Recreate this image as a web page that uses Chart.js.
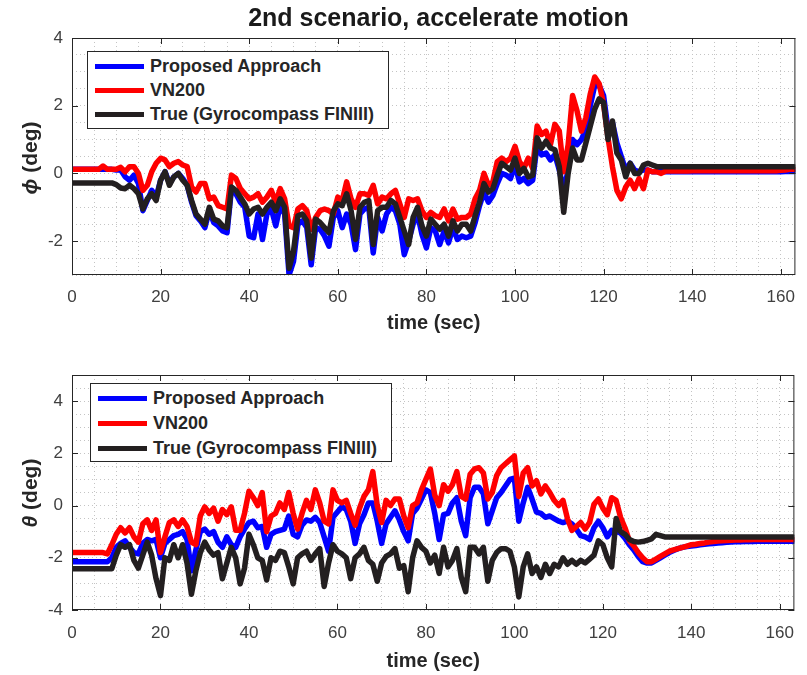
<!DOCTYPE html>
<html>
<head>
<meta charset="utf-8">
<script src="https://cdn.jsdelivr.net/npm/chart.js@4.4.1/dist/chart.umd.min.js"></script>
<style>
  body { margin: 0; background: #fff; font-family: "Liberation Sans", Arial, sans-serif; }
  #fig { position: relative; width: 807px; height: 675px; overflow: hidden; }
  canvas { position: absolute; left: 0; }
  .fig-title { position: absolute; left: 72px; width: 733px; top: 2px; text-align: center;
    font-size: 25px; font-weight: bold; color: #1a1a1a; line-height: 30px; }
  .ylab { position: absolute; width: 200px; height: 24px; line-height: 24px; text-align: center;
    font-size: 21px; font-weight: bold; color: #262626; transform: rotate(-90deg); white-space: nowrap; }
  .legend { position: absolute; box-sizing: border-box; background: #fff; border: 1px solid #262626; }
  .legend .row { position: absolute; left: 7px; height: 24px; line-height: 24px; white-space: nowrap;
    font-size: 18px; font-weight: bold; color: #262626; }
  .legend .swatch { display: inline-block; width: 49px; height: 5px; vertical-align: middle; margin-right: 6px; position: relative; top: -1px; }
</style>
</head>
<body>
<div id="fig">
  <canvas id="rollChart" width="807" height="337" style="top:0"></canvas>
  <canvas id="pitchChart" width="807" height="338" style="top:337px"></canvas>

  <div class="fig-title">2nd scenario, accelerate motion</div>
  <div class="ylab" style="left:-70px; top:146px;"><i>ϕ</i> (deg)</div>
  <div class="ylab" style="left:-70px; top:481px;"><i>θ</i> (deg)</div>

  <div class="legend" style="left:87px; top:51px; width:302px; height:78px;">
    <div class="row" style="top:2px"><span class="swatch" style="background:#0000ff"></span>Proposed Approach</div>
    <div class="row" style="top:26px"><span class="swatch" style="background:#ff0000"></span>VN200</div>
    <div class="row" style="top:50px"><span class="swatch" style="background:#231f20"></span>True (Gyrocompass FINIII)</div>
  </div>
  <div class="legend" style="left:90px; top:383px; width:302px; height:79px;">
    <div class="row" style="top:2px"><span class="swatch" style="background:#0000ff"></span>Proposed Approach</div>
    <div class="row" style="top:27px"><span class="swatch" style="background:#ff0000"></span>VN200</div>
    <div class="row" style="top:52px"><span class="swatch" style="background:#231f20"></span>True (Gyrocompass FINIII)</div>
  </div>
</div>

<script>
// 1 Hz time base, seconds
const sampleTimes = Array.from({ length: 164 }, (_, i) => i);

// roll angle phi (deg)
const phiProposed = [
  0.12, 0.12, 0.12, 0.12, 0.12, 0.12, 0.12, 0.12, 0.12, 0.12,
  0.1, 0.1, -0.1, -0.2, -0.05, -0.3, -1.1, -0.8, -0.5, -0.7,
  -0.2, 0.05, -0.3, -0.1, 0.0, -0.15, -0.35, -0.85, -1.25, -1.4,
  -1.6, -1.1, -1.45, -1.55, -1.7, -1.75, -0.45, -0.6, -0.85, -1.0,
  -1.85, -1.9, -1.2, -1.95, -1.2, -1.05, -1.55, -0.95, -1.2, -3.0,
  -2.6, -1.5, -1.4, -1.6, -2.7, -1.6, -1.65, -1.85, -2.15, -1.3,
  -1.1, -1.6, -1.2, -1.5, -2.25, -1.2, -1.05, -1.0, -2.35, -1.3,
  -1.7, -1.2, -1.0, -1.1, -1.5, -2.4, -2.0, -1.5, -1.2, -1.8,
  -2.2, -1.6, -1.7, -2.1, -1.7, -2.05, -1.6, -1.95, -1.85, -1.9,
  -1.85, -1.45, -0.95, -0.55, -0.85, -0.65, -0.3, 0.0, -0.05, -0.15,
  0.25, -0.25, -0.15, -0.3, -0.2, 0.85, 0.55, 0.6, 0.4, 0.55,
  0.1, -0.5, 0.1, 1.0, 0.85, 1.0, 1.3, 2.0, 2.6, 2.6,
  2.3, 1.3, 1.5, 0.9, 0.5, 0.1, 0.3, 0.1, 0.05, 0.1,
  0.1, 0.05, 0.05, 0.05, 0.05, 0.05, 0.05, 0.05, 0.05, 0.05,
  0.05, 0.05, 0.05, 0.05, 0.05, 0.05, 0.05, 0.05, 0.05, 0.05,
  0.05, 0.05, 0.05, 0.05, 0.05, 0.05, 0.05, 0.05, 0.05, 0.05,
  0.05, 0.06, 0.06, 0.06
];
const phiVN200 = [
  0.12, 0.12, 0.12, 0.12, 0.12, 0.12, 0.12, 0.22, 0.12, 0.12,
  0.12, 0.18, 0.05, 0.2, 0.2, 0.0, -0.5, -0.35, 0.05, 0.3,
  0.45, 0.4, 0.2, 0.3, 0.35, 0.25, 0.2, -0.4, -0.55, -0.3,
  -0.3, -0.75, -0.7, -0.95, -1.0, -1.05, -0.05, -0.15, -0.45, -0.6,
  -0.75, -0.7, -0.6, -0.85, -0.7, -0.5, -0.85, -0.45, -0.75, -1.55,
  -1.6, -1.05, -0.95, -1.1, -1.65, -1.3, -1.1, -1.05, -1.1, -1.2,
  -0.7, -0.8, -0.25, -0.75, -1.0, -0.6, -0.6, -0.65, -0.35, -0.9,
  -0.7, -0.75, -0.6, -0.5, -0.9, -1.3, -0.75, -0.8, -0.75, -1.1,
  -1.3, -1.15, -1.25, -1.3, -1.05, -1.4, -1.05, -1.35, -1.3, -1.3,
  -1.2, -0.75, -0.5, 0.0, -0.35, -0.25, 0.35, 0.45, 0.35, 0.45,
  0.8, 0.35, 0.15, 0.45, 0.15, 1.4, 1.15, 1.25, 0.85, 1.45,
  1.25, 0.05, 0.85, 2.3, 1.85, 1.25, 1.65, 2.35, 2.85, 2.65,
  2.05, 1.05, 0.2, -0.5, -0.75, -0.4, -0.2, -0.45, -0.15, -0.45,
  0.1, 0.05, 0.05, 0.0, 0.07, 0.07, 0.07, 0.07, 0.07, 0.07,
  0.08, 0.08, 0.08, 0.08, 0.08, 0.08, 0.08, 0.08, 0.08, 0.08,
  0.08, 0.08, 0.08, 0.08, 0.08, 0.08, 0.08, 0.08, 0.08, 0.08,
  0.09, 0.1, 0.12, 0.12
];
const phiTrue = [
  -0.28, -0.28, -0.28, -0.28, -0.28, -0.28, -0.28, -0.28, -0.28, -0.28,
  -0.33, -0.43, -0.45, -0.35, -0.45, -0.6, -1.05, -0.75, -0.6, -0.8,
  -0.2, 0.05, -0.35, -0.1, 0.0, -0.2, -0.35, -0.8, -1.2, -1.35,
  -1.5, -1.0, -1.35, -1.4, -1.55, -1.6, -0.4, -0.5, -0.7, -0.9,
  -1.2, -1.05, -1.0, -1.2, -1.0, -0.85, -1.1, -0.75, -1.0, -2.8,
  -2.3, -1.25, -1.2, -1.4, -2.5, -1.35, -1.45, -1.6, -1.75, -1.1,
  -0.9, -0.95, -0.6, -1.1, -1.95, -1.0, -0.85, -0.8, -2.1, -1.1,
  -1.0, -1.0, -0.8, -0.9, -1.3, -1.7, -2.1, -1.3, -1.0, -1.55,
  -1.85, -1.35, -1.5, -1.65, -1.5, -1.85, -1.4, -1.7, -1.5, -1.5,
  -1.7, -1.25, -0.85, -0.3, -0.55, -0.45, -0.05, 0.3, 0.2, 0.1,
  0.45, 0.0, 0.15, -0.1, -0.05, 1.05, 0.75, 0.95, 0.75, 0.7,
  0.2, -1.15, 0.0, 0.75, 0.4, 0.4, 0.9, 1.4, 1.9, 2.2,
  2.1, 1.0, 1.55, 0.6, 0.4, -0.1, 0.3, 0.0, 0.0, 0.25,
  0.3, 0.25, 0.2, 0.2, 0.2, 0.2, 0.2, 0.2, 0.2, 0.2,
  0.2, 0.2, 0.2, 0.2, 0.2, 0.2, 0.2, 0.2, 0.2, 0.2,
  0.2, 0.2, 0.2, 0.2, 0.2, 0.2, 0.2, 0.2, 0.2, 0.2,
  0.2, 0.2, 0.2, 0.2
];

// pitch angle theta (deg)
const thetaProposed = [
  -2.15, -2.15, -2.15, -2.15, -2.15, -2.15, -2.15, -2.15, -2.15, -2.0,
  -1.6, -1.45, -1.35, -1.6, -1.8, -1.85, -1.45, -1.3, -1.35, -1.3,
  -2.0, -1.45, -1.3, -1.15, -1.1, -1.0, -1.3, -2.5, -1.7, -1.0,
  -0.9, -1.1, -1.0, -1.4, -1.6, -1.2, -1.5, -1.6, -1.2, -0.9,
  -0.65, -0.6, -0.85, -0.8, -1.6, -1.1, -1.0, -0.95, -0.9, -0.4,
  -1.1, -1.2, -0.75, -0.55, -0.6, -0.45, -0.65, -1.2, -1.75, -0.45,
  -0.25, -0.05, -0.15, -0.6, -1.45, -0.7, -0.35, 0.1, 0.1, -0.6,
  -1.45, -0.7, -0.45, -0.2, -0.55, -1.0, -1.35, -0.3, -0.1, 0.25,
  0.6, 0.5, -0.3, -1.3, -0.35, -0.3, 0.1, 0.3, -0.6, -1.15,
  0.3, 0.7, 0.7, 0.45, -0.7, -0.2, 0.3, 0.5, 0.75, 1.0,
  1.05, -0.6, 0.1, 0.7, 0.25, -0.25, -0.3, -0.45, -0.4, -0.5,
  -0.6, -0.65, -0.6, -0.7, -0.9, -1.15, -1.2, -1.3, -0.85, -0.6,
  -0.85, -1.2, -0.95, -1.0, -1.05, -1.25, -1.5, -1.7, -1.95, -2.15,
  -2.2, -2.2, -2.1, -2.0, -1.9, -1.8, -1.72, -1.65, -1.6, -1.57,
  -1.55, -1.53, -1.5, -1.48, -1.46, -1.45, -1.43, -1.42, -1.41, -1.4,
  -1.39, -1.39, -1.38, -1.38, -1.38, -1.37, -1.37, -1.37, -1.37, -1.37,
  -1.37, -1.37, -1.37, -1.37
];
const thetaVN200 = [
  -1.8, -1.8, -1.8, -1.8, -1.8, -1.8, -1.8, -1.8, -1.85, -1.5,
  -1.1, -0.85, -1.05, -0.85, -1.2, -1.4, -0.7, -0.55, -0.95, -0.55,
  -1.8, -1.2, -0.65, -0.55, -0.8, -0.55, -0.8, -1.4, -1.5, -0.4,
  -0.05, -0.3, -0.1, -0.6, -0.15, -0.35, -0.05, -0.95, -0.95, -0.3,
  0.55, 0.3, 0.0, 0.5, -1.0, -0.4, -0.3, 0.1, -0.15, 0.5,
  -0.3, -0.9, -0.3, 0.2, -0.15, 0.6, 0.1, -0.6, -0.7, 0.6,
  0.2, 0.1, 0.2, -0.3, -0.75, -0.1, 0.35, 0.6, 1.3, 0.0,
  -0.65, 0.2, 0.0, 0.25, 0.25, -0.4, -0.85, 0.0, 0.1, 0.6,
  1.0, 1.4, 0.4, 0.0, 0.8, 0.55, 0.8, 1.3, 0.35, 0.25,
  1.2, 1.4, 1.45, 1.25, 0.25, 0.5, 1.15, 1.45, 1.6, 1.75,
  1.9, 0.35, 1.25, 1.45, 0.75, 0.95, 0.45, 0.75, 0.5, 0.2,
  0.0, 0.2, -0.5, -0.95, -0.8, -0.65, -0.9, -0.65, 0.05, 0.25,
  -0.1, -0.35, 0.3, 0.2, -0.45, -0.85, -1.35, -1.55, -1.8, -2.0,
  -2.15, -2.15, -2.05, -1.95, -1.85, -1.75, -1.7, -1.65, -1.6, -1.55,
  -1.5, -1.48, -1.45, -1.43, -1.4, -1.38, -1.36, -1.35, -1.34, -1.33,
  -1.32, -1.32, -1.31, -1.31, -1.3, -1.3, -1.3, -1.3, -1.3, -1.3,
  -1.3, -1.3, -1.3, -1.3
];
const thetaTrue = [
  -2.42, -2.42, -2.42, -2.42, -2.42, -2.42, -2.42, -2.42, -2.42, -2.42,
  -1.9, -1.5, -1.6, -1.5, -2.1, -2.4, -1.9, -1.4, -1.9, -2.8,
  -3.45, -2.0, -2.1, -1.5, -2.0, -1.5, -2.2, -3.4, -2.5, -1.8,
  -1.4, -1.7, -1.9, -1.8, -2.8, -2.2, -1.6, -2.0, -3.0, -2.4,
  -1.1, -1.5, -2.0, -2.1, -2.85, -2.0, -2.1, -1.75, -1.8, -2.35,
  -3.0, -2.0, -1.85, -1.75, -2.1, -1.85, -1.65, -3.1, -2.2, -1.5,
  -1.75, -1.85, -2.0, -2.8, -2.0, -1.85, -1.6, -2.1, -2.25, -2.9,
  -2.2, -1.95, -1.85, -1.65, -2.4, -2.3, -3.3, -2.0, -1.35, -1.6,
  -1.75, -2.2, -1.9, -2.6, -1.6, -2.35, -2.1, -1.65, -2.75, -3.3,
  -1.6, -1.6, -1.85, -1.6, -2.9, -2.1, -1.8, -1.65, -1.65, -1.75,
  -2.35, -3.5, -2.35, -1.85, -2.6, -2.35, -2.75, -2.25, -2.6, -2.25,
  -2.35, -2.0, -2.25, -2.1, -2.25, -2.1, -2.2, -2.05, -1.9, -1.35,
  -1.5, -2.0, -2.35, -0.5, -1.0, -1.1, -1.3, -1.38, -1.4, -1.38,
  -1.33, -1.28, -1.1, -1.15, -1.2, -1.2, -1.2, -1.2, -1.2, -1.2,
  -1.2, -1.2, -1.2, -1.2, -1.2, -1.2, -1.2, -1.2, -1.2, -1.2,
  -1.2, -1.2, -1.2, -1.2, -1.2, -1.2, -1.2, -1.2, -1.2, -1.2,
  -1.2, -1.2, -1.2, -1.2
];

const xMajorTicks = [0, 20, 40, 60, 80, 100, 120, 140, 160];
const fontFamily = '"Liberation Sans", Arial, sans-serif';
const gridColor = '#c4c4c4';
const axisColor = '#262626';

function toPoints(values) {
  return values.map((v, i) => ({ x: sampleTimes[i], y: v }));
}

// MATLAB-like axes box with inward major ticks
const axesBox = {
  id: 'axesBox',
  afterDatasetsDraw(chart) {
    const { ctx, chartArea: a, scales } = chart;
    const len = 6;
    ctx.save();
    ctx.strokeStyle = axisColor;
    ctx.lineWidth = 1;
    ctx.strokeRect(a.left + 0.5, a.top + 0.5, a.right - a.left - 1, a.bottom - a.top - 1);
    ctx.beginPath();
    xMajorTicks.forEach(v => {
      const px = Math.round(scales.x.getPixelForValue(v)) + 0.5;
      ctx.moveTo(px, a.bottom); ctx.lineTo(px, a.bottom - len);
      ctx.moveTo(px, a.top); ctx.lineTo(px, a.top + len);
    });
    scales.y.ticks.forEach(t => {
      if (t.value % 2 !== 0) return;
      const py = Math.round(scales.y.getPixelForValue(t.value)) + 0.5;
      ctx.moveTo(a.left, py); ctx.lineTo(a.left + len, py);
      ctx.moveTo(a.right, py); ctx.lineTo(a.right - len, py);
    });
    ctx.stroke();
    ctx.restore();
  }
};

function buildAttitudeChart(canvasId, proposed, vn200, truth, yMin, yMax, axisHeight, tickPad, titlePad) {
  const el = document.getElementById(canvasId);
  const line = (label, values, color, order) => ({
    label, data: toPoints(values), borderColor: color, backgroundColor: color,
    borderWidth: 5.5, pointRadius: 0, tension: 0, order, clip: 0,
    borderJoinStyle: 'round', borderCapStyle: 'round'
  });
  return new Chart(el, {
    type: 'line',
    data: {
      datasets: [
        line('Proposed Approach', proposed, '#0000ff', 3),
        line('VN200', vn200, '#ff0000', 2),
        line('True (Gyrocompass FINIII)', truth, '#231f20', 1)
      ]
    },
    options: {
      responsive: false,
      animation: false,
      layout: { padding: { top: 38, right: 2, left: 0, bottom: 0 } },
      plugins: { legend: { display: false }, tooltip: { enabled: false } },
      scales: {
        x: {
          type: 'linear', min: 0, max: 163.3,
          afterFit: s => { s.height = axisHeight; },
          ticks: {
            stepSize: 5, includeBounds: false, autoSkip: false, maxRotation: 0, padding: tickPad,
            color: '#404040', font: { family: fontFamily, size: 17 },
            callback: v => (v % 20 === 0 ? v : '')
          },
          grid: { color: gridColor, lineWidth: 1, drawTicks: false },
          border: { display: false, dash: [1, 3] },
          title: {
            display: true, text: 'time (sec)', color: axisColor,
            font: { family: fontFamily, size: 20, weight: 'bold' },
            padding: { top: 0, bottom: titlePad }
          }
        },
        y: {
          min: yMin, max: yMax,
          afterFit: s => { s.width = 72; },
          ticks: {
            stepSize: 0.5, autoSkip: false, padding: 9,
            color: '#404040', font: { family: fontFamily, size: 17 },
            callback: v => (v % 2 === 0 ? v : '')
          },
          grid: { color: gridColor, lineWidth: 1, drawTicks: false },
          border: { display: false, dash: [1, 3] }
        }
      }
    },
    plugins: [axesBox]
  });
}

buildAttitudeChart('rollChart', phiProposed, phiVN200, phiTrue, -3, 4, 62, 12, 1.5);
buildAttitudeChart('pitchChart', thetaProposed, thetaVN200, thetaTrue, -4, 5, 65, 13, 2);
</script>
</body>
</html>
